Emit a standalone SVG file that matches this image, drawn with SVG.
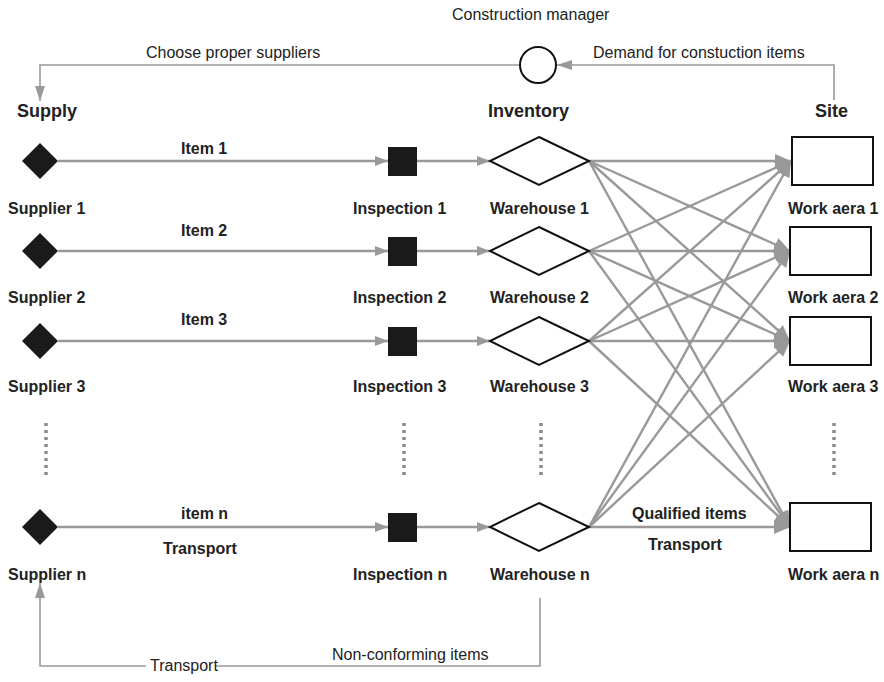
<svg xmlns="http://www.w3.org/2000/svg" width="884" height="682" viewBox="0 0 884 682">
  <defs>
    <marker id="arrow" markerUnits="userSpaceOnUse" markerWidth="14" markerHeight="12" refX="13" refY="5" orient="auto">
      <path d="M0,0 L13,5 L0,10 z" fill="#999"/>
    </marker>
    <marker id="arrowBig" markerUnits="userSpaceOnUse" markerWidth="18" markerHeight="16" refX="16" refY="7" orient="auto">
      <path d="M0,0 L16,7 L0,14 z" fill="#999"/>
    </marker>
    <marker id="arrowThin" markerUnits="userSpaceOnUse" markerWidth="16" markerHeight="12" refX="15" refY="5" orient="auto">
      <path d="M0,0 L15,5 L0,10 z" fill="#999"/>
    </marker>
  </defs>
  <style>
    text { font-family: "Liberation Sans", Arial, sans-serif; fill: #222; }
    .lbl { font-size: 16px; font-weight: bold; }
    .head { font-size: 18px; font-weight: bold; }
    .note { font-size: 16px; }
    .supplier { fill: #1a1a1a; }
    .inspect { fill: #1a1a1a; }
    .warehouse { fill: #fff; stroke: #111; stroke-width: 2; }
    .area { fill: #fff; stroke: #111; stroke-width: 2; }
    .mgr { fill: #fff; stroke: #111; stroke-width: 2; }
    .flow { stroke: #999; stroke-width: 2.6; fill: none; }
    .ship { stroke: #999; stroke-width: 2.4; fill: none; marker-end: url(#arrowBig); }
    .feed { stroke: #999; stroke-width: 1.6; fill: none; }
    .dots { stroke: #8a8a8a; stroke-width: 3.5; stroke-dasharray: 3 4; }
  </style>

  <!-- column headings -->
  <g id="headings">
    <text class="head" x="17" y="117">Supply</text>
    <text class="head" x="488" y="117">Inventory</text>
    <text class="head" x="815" y="117">Site</text>
  </g>

  <!-- connectors -->
  <g id="connectors">
    <!-- manager loop -->
    <path class="feed" d="M834,100 V65 H557" marker-end="url(#arrowThin)"/>
    <path class="feed" d="M519,65 H40 V101" marker-end="url(#arrowThin)"/>
    <!-- supplier to inspection -->
    <line class="flow" x1="58" y1="161" x2="388" y2="161" marker-end="url(#arrow)"/>
    <line class="flow" x1="58" y1="251" x2="388" y2="251" marker-end="url(#arrow)"/>
    <line class="flow" x1="58" y1="341" x2="388" y2="341" marker-end="url(#arrow)"/>
    <line class="flow" x1="58" y1="527" x2="388" y2="527" marker-end="url(#arrow)"/>
    <!-- inspection to warehouse -->
    <line class="flow" x1="417" y1="161" x2="490" y2="161" marker-end="url(#arrow)"/>
    <line class="flow" x1="417" y1="251" x2="490" y2="251" marker-end="url(#arrow)"/>
    <line class="flow" x1="417" y1="341" x2="490" y2="341" marker-end="url(#arrow)"/>
    <line class="flow" x1="417" y1="527" x2="490" y2="527" marker-end="url(#arrow)"/>
    <!-- warehouse to work area -->
    <line class="ship" x1="589" y1="161" x2="791" y2="161"/>
    <line class="ship" x1="589" y1="161" x2="790" y2="251"/>
    <line class="ship" x1="589" y1="161" x2="790" y2="341"/>
    <line class="ship" x1="589" y1="161" x2="790" y2="527"/>
    <line class="ship" x1="589" y1="251" x2="791" y2="161"/>
    <line class="ship" x1="589" y1="251" x2="790" y2="251"/>
    <line class="ship" x1="589" y1="251" x2="790" y2="341"/>
    <line class="ship" x1="589" y1="251" x2="790" y2="527"/>
    <line class="ship" x1="589" y1="341" x2="791" y2="161"/>
    <line class="ship" x1="589" y1="341" x2="790" y2="251"/>
    <line class="ship" x1="589" y1="341" x2="790" y2="341"/>
    <line class="ship" x1="589" y1="341" x2="790" y2="527"/>
    <line class="ship" x1="589" y1="527" x2="791" y2="161"/>
    <line class="ship" x1="589" y1="527" x2="790" y2="251"/>
    <line class="ship" x1="589" y1="527" x2="790" y2="341"/>
    <line class="ship" x1="589" y1="527" x2="790" y2="527"/>
    <!-- non-conforming return -->
    <path class="feed" d="M540,598 V666 H216"/>
    <path class="feed" d="M146,666 H40 V583" marker-end="url(#arrowThin)"/>
  </g>

  <!-- continuation dots -->
  <g id="ellipsis">
    <line class="dots" x1="46" y1="423" x2="46" y2="477"/>
    <line class="dots" x1="404" y1="423" x2="404" y2="477"/>
    <line class="dots" x1="541" y1="423" x2="541" y2="477"/>
    <line class="dots" x1="834" y1="423" x2="834" y2="477"/>
  </g>

  <!-- construction manager -->
  <g id="manager">
    <circle class="mgr" cx="538" cy="65" r="18"/>
    <text class="note" x="452" y="20">Construction manager</text>
    <text class="note" x="146" y="58">Choose proper suppliers</text>
    <text class="note" x="593" y="58">Demand for constuction items</text>
  </g>

  <!-- suppliers -->
  <g id="supplier1">
    <polygon class="supplier" points="40,143 58,161 40,179 22,161"/>
    <text class="lbl" x="8" y="214">Supplier 1</text>
  </g>
  <g id="supplier2">
    <polygon class="supplier" points="40,233 58,251 40,269 22,251"/>
    <text class="lbl" x="8" y="303">Supplier 2</text>
  </g>
  <g id="supplier3">
    <polygon class="supplier" points="40,323 58,341 40,359 22,341"/>
    <text class="lbl" x="8" y="392">Supplier 3</text>
  </g>
  <g id="suppliern">
    <polygon class="supplier" points="40,509 58,527 40,545 22,527"/>
    <text class="lbl" x="8" y="580">Supplier n</text>
  </g>

  <!-- item labels -->
  <g id="items">
    <text class="lbl" x="181" y="154">Item 1</text>
    <text class="lbl" x="181" y="236">Item 2</text>
    <text class="lbl" x="181" y="325">Item 3</text>
    <text class="lbl" x="181" y="519">item n</text>
    <text class="lbl" x="163" y="554">Transport</text>
  </g>

  <!-- inspections -->
  <g id="inspection1">
    <rect class="inspect" x="388" y="147" width="29" height="29"/>
    <text class="lbl" x="353" y="214">Inspection 1</text>
  </g>
  <g id="inspection2">
    <rect class="inspect" x="388" y="237" width="29" height="29"/>
    <text class="lbl" x="353" y="303">Inspection 2</text>
  </g>
  <g id="inspection3">
    <rect class="inspect" x="388" y="327" width="29" height="29"/>
    <text class="lbl" x="353" y="392">Inspection 3</text>
  </g>
  <g id="inspectionn">
    <rect class="inspect" x="388" y="513" width="29" height="29"/>
    <text class="lbl" x="353" y="580">Inspection n</text>
  </g>

  <!-- warehouses -->
  <g id="warehouse1">
    <polygon class="warehouse" points="539,137 589,161 539,185 490,161"/>
    <text class="lbl" x="490" y="214">Warehouse 1</text>
  </g>
  <g id="warehouse2">
    <polygon class="warehouse" points="539,227 589,251 539,275 490,251"/>
    <text class="lbl" x="490" y="303">Warehouse 2</text>
  </g>
  <g id="warehouse3">
    <polygon class="warehouse" points="539,317 589,341 539,365 490,341"/>
    <text class="lbl" x="490" y="392">Warehouse 3</text>
  </g>
  <g id="warehousen">
    <polygon class="warehouse" points="539,503 589,527 539,551 490,527"/>
    <text class="lbl" x="490" y="580">Warehouse n</text>
  </g>

  <!-- work areas -->
  <g id="workarea1">
    <rect class="area" x="792" y="137" width="81" height="48"/>
    <text class="lbl" x="788" y="214">Work aera 1</text>
  </g>
  <g id="workarea2">
    <rect class="area" x="790" y="227" width="81" height="48"/>
    <text class="lbl" x="788" y="303">Work aera 2</text>
  </g>
  <g id="workarea3">
    <rect class="area" x="790" y="317" width="81" height="48"/>
    <text class="lbl" x="788" y="392">Work aera 3</text>
  </g>
  <g id="workarean">
    <rect class="area" x="790" y="503" width="81" height="48"/>
    <text class="lbl" x="788" y="580">Work aera n</text>
  </g>

  <!-- shipping labels -->
  <g id="shipping">
    <text class="lbl" x="632" y="519">Qualified items</text>
    <text class="lbl" x="648" y="550">Transport</text>
    <text class="note" x="332" y="660">Non-conforming items</text>
    <text class="note" x="150" y="671">Transport</text>
  </g>
</svg>
